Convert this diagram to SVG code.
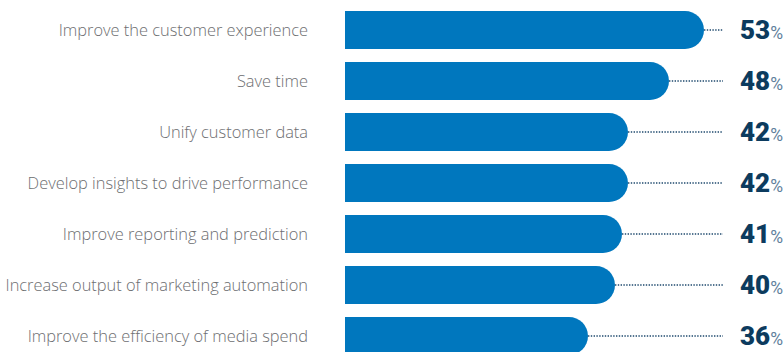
<svg xmlns="http://www.w3.org/2000/svg" width="784" height="352" viewBox="0 0 784 352">
<style>
.lbl{font-family:"Open Sans","Liberation Sans",sans-serif;font-weight:300;font-size:16.4px;fill:#6d6e71;text-anchor:end}
.bar{fill:#0077be}
.dot{stroke:#1f4a6e;stroke-width:1.3;stroke-dasharray:1.4 1.4;fill:none}
.val{font-family:Roboto,"Liberation Sans",sans-serif;text-anchor:end}
.num{font-weight:900;font-size:26px;fill:#0c3b5e}
.pct{font-weight:400;font-size:17.5px;fill:#5f7f9c}
</style>
<rect width="784" height="352" fill="#ffffff"/>
<g id="connectors">
<line class="dot" x1="704" y1="30" x2="723" y2="30"/>
<line class="dot" x1="669" y1="81" x2="723" y2="81"/>
<line class="dot" x1="628" y1="132" x2="723" y2="132"/>
<line class="dot" x1="628" y1="183" x2="723" y2="183"/>
<line class="dot" x1="622" y1="234" x2="723" y2="234"/>
<line class="dot" x1="615" y1="285" x2="723" y2="285"/>
<line class="dot" x1="588" y1="336" x2="723" y2="336"/>
</g>
<g id="row1"><text class="lbl" x="308" y="36">Improve the customer experience</text><path class="bar" d="M345 11H685A19 19 0 0 1 685 49H345Z"/><text class="val" x="783" y="39"><tspan class="num">53</tspan><tspan class="pct">%</tspan></text></g>
<g id="row2"><text class="lbl" x="308" y="87">Save time</text><path class="bar" d="M345 62H650A19 19 0 0 1 650 100H345Z"/><text class="val" x="783" y="90"><tspan class="num">48</tspan><tspan class="pct">%</tspan></text></g>
<g id="row3"><text class="lbl" x="308" y="138">Unify customer data</text><path class="bar" d="M345 113H609A19 19 0 0 1 609 151H345Z"/><text class="val" x="783" y="141"><tspan class="num">42</tspan><tspan class="pct">%</tspan></text></g>
<g id="row4"><text class="lbl" x="308" y="189">Develop insights to drive performance</text><path class="bar" d="M345 164H609A19 19 0 0 1 609 202H345Z"/><text class="val" x="783" y="192"><tspan class="num">42</tspan><tspan class="pct">%</tspan></text></g>
<g id="row5"><text class="lbl" x="308" y="240">Improve reporting and prediction</text><path class="bar" d="M345 215H603A19 19 0 0 1 603 253H345Z"/><text class="val" x="783" y="243"><tspan class="num">41</tspan><tspan class="pct">%</tspan></text></g>
<g id="row6"><text class="lbl" x="308" y="291">Increase output of marketing automation</text><path class="bar" d="M345 266H596A19 19 0 0 1 596 304H345Z"/><text class="val" x="783" y="294"><tspan class="num">40</tspan><tspan class="pct">%</tspan></text></g>
<g id="row7"><text class="lbl" x="308" y="342">Improve the efficiency of media spend</text><path class="bar" d="M345 317H569A19 19 0 0 1 569 355H345Z"/><text class="val" x="783" y="345"><tspan class="num">36</tspan><tspan class="pct">%</tspan></text></g>
</svg>
